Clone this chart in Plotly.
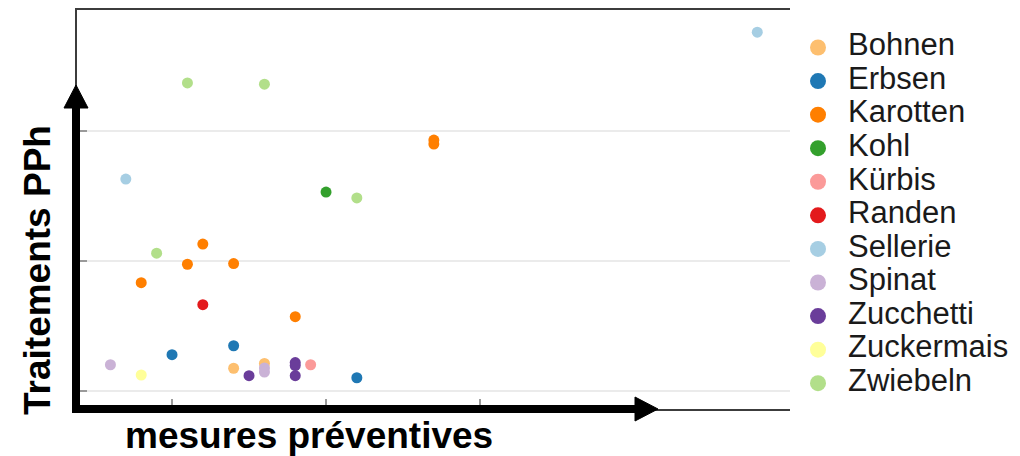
import plotly.graph_objects as go

# ---------------- data ----------------
categories = ["Bohnen", "Erbsen", "Karotten", "Kohl", "Kürbis", "Randen",
              "Sellerie", "Spinat", "Zucchetti", "Zuckermais", "Zwiebeln"]
palette = ["#FDBF6F", "#1F78B4", "#FF7F00", "#33A02C", "#FB9A99", "#E31A1C",
           "#A6CEE3", "#CAB2D6", "#6A3D9A", "#FFFF99", "#B2DF8A"]

point_crop = ["Sellerie", "Zwiebeln", "Zwiebeln", "Karotten", "Karotten", "Sellerie",
              "Kohl", "Zwiebeln", "Karotten", "Zwiebeln", "Karotten", "Karotten",
              "Karotten", "Randen", "Karotten", "Erbsen", "Erbsen", "Spinat",
              "Zuckermais", "Bohnen", "Zucchetti", "Bohnen", "Spinat", "Spinat",
              "Zucchetti", "Zucchetti", "Zucchetti", "Kürbis", "Erbsen"]
point_x = [48, 11, 16, 27, 27, 7,
           20, 22, 12, 9, 11, 14,
           8, 12, 18, 14, 10, 6,
           8, 14, 15, 16, 16, 16,
           18, 18, 18, 19, 22]
point_y = [27.6, 23.7, 23.6, 19.3, 19.0, 16.3,
           15.3, 14.85, 11.3, 10.6, 9.75, 9.8,
           8.33, 6.64, 5.72, 3.48, 2.79, 2.02,
           1.23, 1.75, 1.18, 2.12, 1.77, 1.46,
           2.19, 1.96, 1.18, 2.02, 1.02]

x_ticks = [10, 20, 30]
y_ticks = [0, 10, 20]
x_title = "mesures préventives"
y_title = "Traitements PPh"

# ---------------- layout helpers ----------------
W, H = 1020, 456
def px(x):
    return x / W
def py(y):
    return (H - y) / H

FONT = "Liberation Sans, Arial, sans-serif"

fig = go.Figure()

for cat, col in zip(categories, palette):
    xs = [x for c, x in zip(point_crop, point_x) if c == cat]
    ys = [y for c, y in zip(point_crop, point_y) if c == cat]
    fig.add_trace(go.Scatter(
        x=xs, y=ys, mode="markers", name=cat, showlegend=False,
        marker=dict(color=col, size=11, line=dict(width=0)),
        xaxis="x", yaxis="y"))

# custom legend drawn in its own subplot
idx = list(range(len(categories)))
fig.add_trace(go.Scatter(
    x=[0] * len(categories), y=idx, mode="markers", showlegend=False,
    marker=dict(color=palette, size=16, line=dict(width=0)),
    hoverinfo="skip", xaxis="x2", yaxis="y2"))
fig.add_trace(go.Scatter(
    x=[30] * len(categories), y=idx, mode="text", text=categories,
    textposition="middle right", showlegend=False,
    textfont=dict(family=FONT, size=31, color="#1a1a1a"),
    hoverinfo="skip", xaxis="x2", yaxis="y2"))

axis_common = dict(
    showticklabels=False, ticks="inside", ticklen=10, tickwidth=1.5,
    tickcolor="#9a9a9a", zeroline=False, showline=True, mirror=True,
    linecolor="#3c3c3c", linewidth=2, fixedrange=True)

leg_top, leg_step = 47.5, 33.57
fig.update_layout(
    width=W, height=H,
    margin=dict(l=0, r=0, t=0, b=0, pad=0),
    paper_bgcolor="white", plot_bgcolor="white",
    xaxis=dict(domain=[px(77), px(791)], range=[3.83, 50.19], tickvals=x_ticks,
               showgrid=False, **axis_common),
    yaxis=dict(domain=[py(409), py(10)], range=[-1.385, 29.31], tickvals=y_ticks,
               showgrid=True, gridcolor="#EBEBEB", gridwidth=1.5, **axis_common),
    xaxis2=dict(domain=[px(790), 1.0], range=[-28, 202], visible=False, fixedrange=True),
    yaxis2=dict(domain=[0.0, 1.0],
                range=[(H - leg_top) / leg_step, (0 - leg_top) / leg_step],
                visible=False, fixedrange=True),
    showlegend=False,
)

# axis titles
fig.add_annotation(text=y_title, x=px(37), y=py(270), xref="paper", yref="paper",
                   textangle=-90, showarrow=False, xanchor="center", yanchor="middle",
                   font=dict(family=FONT, size=37, color="black", weight="bold"))
fig.add_annotation(text=x_title, x=px(309), y=py(435), xref="paper", yref="paper",
                   showarrow=False, xanchor="center", yanchor="middle",
                   height=42, valign="middle",
                   font=dict(family=FONT, size=37, color="black", weight="bold"))

# axis arrows
line_style = dict(color="black", width=8)
fig.add_shape(type="line", xref="paper", yref="paper",
              x0=px(76), y0=py(413), x1=px(76), y1=py(104), line=line_style)
fig.add_shape(type="line", xref="paper", yref="paper",
              x0=px(72), y0=py(409), x1=px(640), y1=py(409), line=line_style)
fig.add_shape(type="path", xref="paper", yref="paper",
              path=f"M {px(64)} {py(108)} L {px(88)} {py(108)} L {px(76)} {py(85)} Z",
              fillcolor="black", line=dict(color="black", width=1))
fig.add_shape(type="path", xref="paper", yref="paper",
              path=f"M {px(635)} {py(397)} L {px(635)} {py(421)} L {px(658)} {py(409)} Z",
              fillcolor="black", line=dict(color="black", width=1))

fig.write_html(
    "out.html",
    config={"displayModeBar": False, "staticPlot": False},
    post_script="document.body.style.margin='0';document.body.style.overflow='hidden';",
)
